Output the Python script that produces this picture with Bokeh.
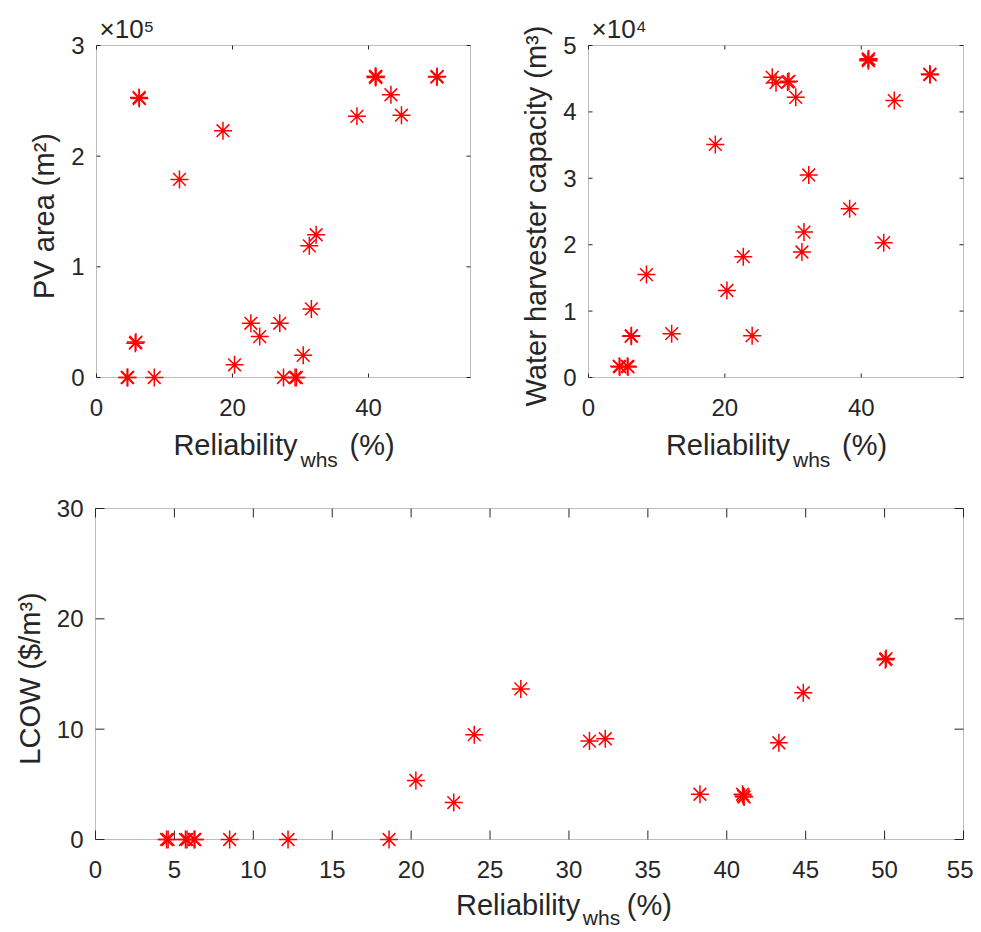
import math
from bokeh.plotting import figure
from bokeh.models import (Range1d, FixedTicker, Label, BoxAnnotation,
                          CustomJSTickFormatter, ColumnDataSource)
from bokeh.layouts import column, row
from bokeh.embed import file_html
from bokeh.resources import INLINE

NaN = float("nan")

# ---------------- data ----------------
reliability = [4.5, 4.6, 5.7, 5.8, 6.3, 6.25, 8.5, 12.2, 18.6, 20.3, 22.7, 24.0,
               26.95, 27.5, 29.2, 29.4, 30.4, 31.3, 31.6, 32.3, 38.3, 41.0, 41.1,
               41.05, 43.3, 44.85, 50.1, 50.05]
pv_area = [0, 0, 31000, 32000, 252000, 253000, 0, 179000, 223000, 11500, 49000, 37000,
           49000, 0, 0, 0, 20000, 119000, 62000, 129000, 236000, 272000, 272000,
           271000, 255500, 237000, 272000, 271500]
wh_capacity = [1700, 1600, 1700, 1600, 6300, 6200, 15500, 6600, 35100, 13100, 18200, 6300,
               45200, 44400, 44500, 44600, 42200, 18900, 21900, 30500, 25400, 47900, 48000,
               47700, 20300, 41700, 45600, 45700]
lcow = [0, 0, 0, 0, 0, 0, 0, 0, 0, 5.35, 3.35, 9.5,
        13.65, NaN, NaN, NaN, NaN, 8.92, NaN, 9.13, 4.1, 4.1, 3.85,
        3.95, 8.77, 13.3, 16.4, 16.3]

x_ticks_top = [0, 20, 40]
x_ticks_bottom = [0, 5, 10, 15, 20, 25, 30, 35, 40, 45, 50, 55]
pv_ticks = [0, 100000, 200000, 300000]
wh_ticks = [0, 10000, 20000, 30000, 40000, 50000]
lcow_ticks = [0, 10, 20, 30]

x_max = 55
pv_max = 300000
wh_max = 50000
lcow_max = 30

FONT = "Liberation Sans"
AX = "#262626"
RED = "#FF0000"
TICK_FS = 24
LABEL_FS = 29
SUB_FS = 21
BASE_SHIFT = 0.43   # empirical: Label baseline lands this many em below the given y

# padding (px) between frame edge and the drawn axes box, so markers on the box are not cut
PAD_L, PAD_R, PAD_T, PAD_B = 2, 2, 2, 11

src = ColumnDataSource(dict(rel=reliability, pv=pv_area, wh=wh_capacity, lcow=lcow))


def style_axis(ax):
    ax.axis_line_color = None
    ax.major_tick_line_color = None
    ax.minor_tick_line_color = None
    ax.major_tick_in = 0
    ax.major_tick_out = 0
    ax.major_label_text_color = AX
    ax.major_label_text_font = FONT
    ax.major_label_text_font_size = f"{TICK_FS}px"
    ax.axis_label_text_font = FONT
    ax.axis_label_text_font_style = "normal"
    ax.axis_label_text_color = AX
    ax.axis_label_text_font_size = f"{LABEL_FS}px"


def make_fig(box_w, box_h, ml, mr, mt, mb, xticks, yticks, ymax, yscale, tick_len, ylabel,
             exponent=None):
    xu = x_max / box_w          # data units per px
    yu = ymax / box_h
    p = figure(frame_width=box_w + PAD_L + PAD_R, frame_height=box_h + PAD_T + PAD_B,
               x_range=Range1d(-PAD_L * xu, x_max + PAD_R * xu),
               y_range=Range1d(-PAD_B * yu, ymax + PAD_T * yu),
               min_border_left=ml, min_border_right=mr,
               min_border_top=mt, min_border_bottom=mb,
               output_backend="svg", toolbar_location=None)
    p.xgrid.visible = False
    p.ygrid.visible = False
    p.outline_line_color = None
    p.background_fill_color = "white"
    p.border_fill_color = "white"

    if exponent is not None:
        p.title.text = exponent
        p.title.align = "left"
        p.title.offset = 5
        p.title.standoff = 0
        p.title.text_font = FONT
        p.title.text_font_size = "26px"
        p.title.text_font_style = "normal"
        p.title.text_color = AX

    p.xaxis.ticker = FixedTicker(ticks=xticks)
    p.yaxis.ticker = FixedTicker(ticks=yticks)
    p.yaxis.formatter = CustomJSTickFormatter(code=f"return (tick/{yscale}).toFixed(0);")
    style_axis(p.xaxis[0])
    style_axis(p.yaxis[0])
    p.xaxis.major_label_standoff = 21 - PAD_B
    p.yaxis.major_label_standoff = 12 - PAD_L
    p.yaxis.axis_label = ylabel
    p.yaxis.axis_label_standoff = 8

    # axes box
    p.add_layout(BoxAnnotation(left=0, right=x_max, bottom=0, top=ymax,
                               fill_color=None, line_color=AX, line_width=1,
                               level="underlay"))
    # inward ticks on all four edges of the box
    tick_kw = dict(length=tick_len, length_units="screen", line_color=AX, line_width=1)
    p.ray(x=xticks, y=0, angle=math.pi / 2, **tick_kw)
    p.ray(x=xticks, y=ymax, angle=-math.pi / 2, **tick_kw)
    p.ray(x=0, y=yticks, angle=0, **tick_kw)
    p.ray(x=x_max, y=yticks, angle=math.pi, **tick_kw)
    return p


def text_fig(w, h):
    t = figure(width=w, height=h, x_range=Range1d(0, w), y_range=Range1d(h, 0),
               min_border=0, x_axis_type=None, y_axis_type=None,
               output_backend="svg", toolbar_location=None)
    t.outline_line_color = None
    t.background_fill_color = "white"
    t.border_fill_color = "white"
    t.xgrid.visible = False
    t.ygrid.visible = False
    return t


def put(t, text, x, baseline, fs, align):
    t.add_layout(Label(text=text, x=x, y=baseline - BASE_SHIFT * fs, text_align=align,
                       text_font=FONT, text_color=AX, text_baseline="alphabetic",
                       text_font_size=f"{fs}px"))


def xlabel_fig(w, h, xc, base_y, sub_y):
    t = text_fig(w, h)
    put(t, "Reliability", xc + 14, base_y, LABEL_FS, "right")
    put(t, "whs", xc + 17, sub_y, SUB_FS, "left")
    put(t, "(%)", xc + 66, base_y, LABEL_FS, "left")
    return t


marker_kw = dict(marker="asterisk", size=18, line_color=RED, line_width=1.5, fill_color=None)

# geometry (page px): top axes boxes x 96..470 and 588..963, y 45..377 ; bottom x 95..963, y 508..839
W1, W2, W3 = 499, 474, 973
ML1, ML2, ML3 = 96 - PAD_L, 588 - 499 - PAD_L, 95 - PAD_L
TOP_MT = 45 - PAD_T
TOP_MB = 38
top_fig_h = TOP_MT + 332 + PAD_T + PAD_B + TOP_MB
mid_h = 480 - top_fig_h
BOT_MT = 508 - PAD_T - 480
BOT_MB = 36
bot_fig_h = BOT_MT + 331 + PAD_T + PAD_B + BOT_MB
end_h = 931 - 480 - bot_fig_h

# top-left: PV area
p1 = make_fig(374, 332, ML1, W1 - ML1 - 378, TOP_MT, TOP_MB, x_ticks_top, pv_ticks, pv_max,
              100000, 4, "PV area (m²)", exponent="×10⁵")
p1.scatter(x="rel", y="pv", source=src, **marker_kw)

# top-right: water harvester capacity
p2 = make_fig(375, 332, ML2, W2 - ML2 - 379, TOP_MT, TOP_MB, x_ticks_top, wh_ticks, wh_max,
              10000, 4, "Water harvester capacity (m³)", exponent="×10⁴")
p2.scatter(x="rel", y="wh", source=src, **marker_kw)

# bottom: LCOW
p3 = make_fig(868, 331, ML3, W3 - ML3 - 872, BOT_MT, BOT_MB, x_ticks_bottom, lcow_ticks,
              lcow_max, 1, 9, "LCOW ($/m³)")
p3.scatter(x="rel", y="lcow", source=src, **marker_kw)

l1 = xlabel_fig(W1, mid_h, 96 + 374 / 2, 457 - top_fig_h, 468 - top_fig_h)
l2 = xlabel_fig(W2, mid_h, 588 - W1 + 375 / 2, 457 - top_fig_h, 468 - top_fig_h)
bot_y0 = 480 + bot_fig_h
l3 = xlabel_fig(W3, end_h, 95 + 868 / 2, 917 - bot_y0, 926 - bot_y0)

layout = column(row(p1, p2), row(l1, l2), p3, l3)

open("out.html", "w").write(file_html(layout, INLINE))
